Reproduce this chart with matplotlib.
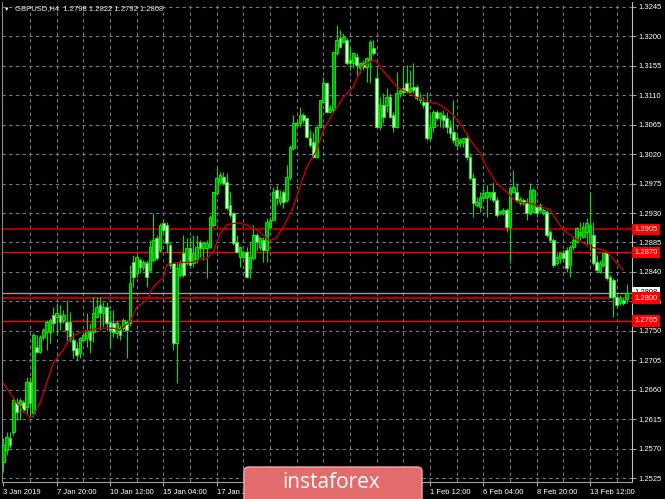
import numpy as np
import matplotlib.pyplot as plt
from matplotlib.patches import FancyBboxPatch

plt.rcParams['font.family'] = ['Liberation Sans', 'DejaVu Sans']

# GBPUSD H4, valores (una vela por barra)
opens = [1.2550, 1.2568, 1.2586, 1.2595, 1.2641, 1.2637, 1.2641, 1.2634, 1.2672, 1.2624,
         1.2725, 1.2718, 1.2741, 1.2748, 1.2748, 1.2774, 1.2771, 1.2774, 1.2767, 1.2764,
         1.2764, 1.2736, 1.2724, 1.2716, 1.2736, 1.2739, 1.2748, 1.2748, 1.2771, 1.2790,
         1.2777, 1.2786, 1.2764, 1.2762, 1.2747, 1.2754, 1.2754, 1.2764, 1.2762, 1.2855,
         1.2838, 1.2858, 1.2848, 1.2854, 1.2843, 1.2858, 1.2892, 1.2874, 1.2915, 1.2912,
         1.2881, 1.2854, 1.2731, 1.2835, 1.2869, 1.2854, 1.2877, 1.2854, 1.2858, 1.2886,
         1.2877, 1.2877, 1.2878, 1.2912, 1.2961, 1.2978, 1.2985, 1.2978, 1.2942, 1.2930,
         1.2886, 1.2863, 1.2863, 1.2871, 1.2846, 1.2861, 1.2897, 1.2878, 1.2889, 1.2874,
         1.2909, 1.2919, 1.2965, 1.2947, 1.2962, 1.2950, 1.2985, 1.3030, 1.3065, 1.3068,
         1.3080, 1.3075, 1.3045, 1.3039, 1.3016, 1.3062, 1.3100, 1.3129, 1.3085, 1.3088,
         1.3175, 1.3198, 1.3192, 1.3195, 1.3164, 1.3159, 1.3169, 1.3152, 1.3159, 1.3153,
         1.3164, 1.3182, 1.3137, 1.3062, 1.3095, 1.3095, 1.3107, 1.3080, 1.3062, 1.3114,
         1.3121, 1.3129, 1.3115, 1.3123, 1.3123, 1.3103, 1.3100, 1.3100, 1.3045, 1.3062,
         1.3085, 1.3075, 1.3080, 1.3075, 1.3062, 1.3054, 1.3034, 1.3037, 1.3039, 1.3045,
         1.3016, 1.2984, 1.2942, 1.2939, 1.2953, 1.2955, 1.2955, 1.2962, 1.2950, 1.2930,
         1.2930, 1.2935, 1.2909, 1.2962, 1.2962, 1.2945, 1.2950, 1.2947, 1.2930, 1.2932,
         1.2939, 1.2942, 1.2930, 1.2932, 1.2901, 1.2889, 1.2854, 1.2861, 1.2869, 1.2874,
         1.2851, 1.2878, 1.2886, 1.2897, 1.2893, 1.2901, 1.2884, 1.2897, 1.2855, 1.2840,
         1.2851, 1.2869, 1.2832, 1.2828, 1.2802, 1.2793, 1.2797, 1.2798]
highs = [1.2586, 1.2595, 1.2595, 1.2649, 1.2647, 1.2647, 1.2644, 1.2679, 1.2679, 1.2747,
         1.2744, 1.2744, 1.2754, 1.2767, 1.2770, 1.2786, 1.2793, 1.2790, 1.2782, 1.2797,
         1.2779, 1.2748, 1.2733, 1.2741, 1.2747, 1.2777, 1.2762, 1.2802, 1.2802, 1.2802,
         1.2794, 1.2794, 1.2782, 1.2782, 1.2767, 1.2759, 1.2770, 1.2767, 1.2851, 1.2866,
         1.2866, 1.2861, 1.2858, 1.2858, 1.2889, 1.2930, 1.2897, 1.2915, 1.2916, 1.2916,
         1.2884, 1.2855, 1.2855, 1.2858, 1.2897, 1.2892, 1.2893, 1.2897, 1.2897, 1.2889,
         1.2886, 1.2889, 1.2927, 1.2962, 1.3000, 1.2993, 1.2993, 1.2991, 1.2962, 1.2932,
         1.2897, 1.2878, 1.2874, 1.2878, 1.2886, 1.2912, 1.2900, 1.2893, 1.2893, 1.2923,
         1.2924, 1.2970, 1.2973, 1.2965, 1.2965, 1.3004, 1.3034, 1.3080, 1.3072, 1.3092,
         1.3083, 1.3077, 1.3057, 1.3054, 1.3062, 1.3103, 1.3138, 1.3130, 1.3095, 1.3176,
         1.3218, 1.3210, 1.3205, 1.3198, 1.3182, 1.3176, 1.3175, 1.3161, 1.3164, 1.3169,
         1.3195, 1.3195, 1.3150, 1.3107, 1.3114, 1.3121, 1.3114, 1.3085, 1.3146, 1.3121,
         1.3153, 1.3156, 1.3149, 1.3159, 1.3126, 1.3114, 1.3107, 1.3115, 1.3080, 1.3088,
         1.3088, 1.3085, 1.3088, 1.3085, 1.3072, 1.3103, 1.3052, 1.3045, 1.3045, 1.3052,
         1.3022, 1.2991, 1.2955, 1.2962, 1.2973, 1.2973, 1.2962, 1.2978, 1.2955, 1.2935,
         1.2938, 1.2938, 1.2968, 1.2996, 1.2976, 1.2955, 1.2953, 1.2953, 1.2976, 1.2968,
         1.2942, 1.2945, 1.2938, 1.2935, 1.2904, 1.2892, 1.2869, 1.2871, 1.2874, 1.2878,
         1.2881, 1.2893, 1.2909, 1.2916, 1.2916, 1.2923, 1.2962, 1.2916, 1.2866, 1.2858,
         1.2869, 1.2871, 1.2835, 1.2831, 1.2805, 1.2805, 1.2802, 1.2822]
lows = [1.2534, 1.2560, 1.2571, 1.2591, 1.2614, 1.2614, 1.2626, 1.2624, 1.2620, 1.2618,
        1.2716, 1.2716, 1.2736, 1.2721, 1.2731, 1.2748, 1.2744, 1.2751, 1.2762, 1.2731,
        1.2733, 1.2708, 1.2705, 1.2708, 1.2733, 1.2725, 1.2716, 1.2733, 1.2770, 1.2751,
        1.2756, 1.2751, 1.2724, 1.2741, 1.2739, 1.2736, 1.2751, 1.2708, 1.2757, 1.2817,
        1.2832, 1.2838, 1.2843, 1.2817, 1.2840, 1.2855, 1.2858, 1.2871, 1.2897, 1.2871,
        1.2846, 1.2721, 1.2670, 1.2832, 1.2832, 1.2851, 1.2848, 1.2848, 1.2854, 1.2863,
        1.2858, 1.2831, 1.2877, 1.2909, 1.2958, 1.2973, 1.2973, 1.2935, 1.2924, 1.2881,
        1.2869, 1.2848, 1.2861, 1.2831, 1.2831, 1.2858, 1.2874, 1.2874, 1.2855, 1.2855,
        1.2904, 1.2919, 1.2942, 1.2942, 1.2938, 1.2947, 1.2981, 1.3026, 1.3060, 1.3062,
        1.3068, 1.3045, 1.3031, 1.3014, 1.3014, 1.3060, 1.3098, 1.3083, 1.3083, 1.3085,
        1.3172, 1.3182, 1.3190, 1.3156, 1.3149, 1.3152, 1.3138, 1.3144, 1.3149, 1.3130,
        1.3129, 1.3172, 1.3060, 1.3057, 1.3068, 1.3085, 1.3075, 1.3054, 1.3060, 1.3107,
        1.3111, 1.3114, 1.3115, 1.3114, 1.3103, 1.3098, 1.3091, 1.3042, 1.3042, 1.3054,
        1.3072, 1.3062, 1.3060, 1.3052, 1.3045, 1.3037, 1.3026, 1.3031, 1.3031, 1.3011,
        1.2981, 1.2924, 1.2939, 1.2932, 1.2953, 1.2924, 1.2950, 1.2947, 1.2924, 1.2927,
        1.2927, 1.2901, 1.2854, 1.2961, 1.2947, 1.2942, 1.2942, 1.2919, 1.2927, 1.2930,
        1.2924, 1.2930, 1.2927, 1.2893, 1.2886, 1.2848, 1.2851, 1.2854, 1.2858, 1.2840,
        1.2832, 1.2874, 1.2884, 1.2889, 1.2892, 1.2881, 1.2874, 1.2851, 1.2840, 1.2838,
        1.2848, 1.2828, 1.2800, 1.2771, 1.2786, 1.2790, 1.2790, 1.2792]
closes = [1.2575, 1.2588, 1.2575, 1.2644, 1.2626, 1.2644, 1.2629, 1.2672, 1.2640, 1.2744,
          1.2718, 1.2741, 1.2751, 1.2764, 1.2767, 1.2762, 1.2777, 1.2764, 1.2774, 1.2751,
          1.2739, 1.2721, 1.2713, 1.2739, 1.2744, 1.2751, 1.2736, 1.2777, 1.2786, 1.2777,
          1.2786, 1.2762, 1.2751, 1.2748, 1.2762, 1.2744, 1.2767, 1.2751, 1.2823, 1.2832,
          1.2863, 1.2848, 1.2855, 1.2832, 1.2878, 1.2889, 1.2861, 1.2912, 1.2904, 1.2884,
          1.2851, 1.2731, 1.2846, 1.2854, 1.2835, 1.2877, 1.2851, 1.2869, 1.2878, 1.2877,
          1.2884, 1.2884, 1.2924, 1.2962, 1.2984, 1.2988, 1.2976, 1.2938, 1.2927, 1.2884,
          1.2871, 1.2878, 1.2871, 1.2832, 1.2863, 1.2897, 1.2886, 1.2892, 1.2874, 1.2916,
          1.2919, 1.2962, 1.2953, 1.2955, 1.2947, 1.2985, 1.3031, 1.3068, 1.3068, 1.3080,
          1.3072, 1.3046, 1.3034, 1.3016, 1.3062, 1.3103, 1.3129, 1.3085, 1.3091, 1.3176,
          1.3195, 1.3184, 1.3199, 1.3159, 1.3159, 1.3175, 1.3156, 1.3159, 1.3153, 1.3167,
          1.3192, 1.3175, 1.3062, 1.3095, 1.3077, 1.3107, 1.3077, 1.3062, 1.3114, 1.3118,
          1.3115, 1.3115, 1.3121, 1.3118, 1.3106, 1.3106, 1.3095, 1.3045, 1.3062, 1.3085,
          1.3075, 1.3083, 1.3072, 1.3062, 1.3052, 1.3042, 1.3045, 1.3042, 1.3045, 1.3016,
          1.2984, 1.2945, 1.2947, 1.2955, 1.2961, 1.2962, 1.2962, 1.2950, 1.2927, 1.2933,
          1.2935, 1.2909, 1.2968, 1.2970, 1.2950, 1.2952, 1.2945, 1.2930, 1.2965, 1.2965,
          1.2930, 1.2935, 1.2935, 1.2897, 1.2889, 1.2851, 1.2863, 1.2869, 1.2861, 1.2846,
          1.2878, 1.2889, 1.2907, 1.2901, 1.2909, 1.2915, 1.2912, 1.2854, 1.2843, 1.2854,
          1.2869, 1.2831, 1.2802, 1.2802, 1.2790, 1.2800, 1.2793, 1.2808]

ma_bars = [0, 2, 4, 8, 9, 11, 13, 15, 18, 20, 23, 26, 29, 33, 35, 36, 38, 40, 43, 45,
           48, 49, 52, 57, 60, 61, 63, 65, 67, 70, 73, 76, 79, 80, 82, 84, 87, 89, 91, 94,
           96, 99, 102, 105, 106, 108, 111, 112, 113, 117, 118, 121, 124, 126, 129, 130, 132, 135, 138, 140,
           143, 145, 148, 151, 154, 158, 160, 164, 166, 168, 171, 174, 177, 179, 181, 184, 186]
ma_vals = [1.2670, 1.2655, 1.2640, 1.2617, 1.2620, 1.2640, 1.2670, 1.2701, 1.2721, 1.2739,
           1.2748, 1.2751, 1.2754, 1.2754, 1.2751, 1.2756, 1.2764, 1.2786, 1.2797, 1.2817,
           1.2832, 1.2851, 1.2854, 1.2855, 1.2861, 1.2860, 1.2871, 1.2897, 1.2912, 1.2915,
           1.2912, 1.2904, 1.2892, 1.2887, 1.2893, 1.2909, 1.2939, 1.2970, 1.3000, 1.3026,
           1.3057, 1.3083, 1.3107, 1.3123, 1.3135, 1.3156, 1.3164, 1.3161, 1.3153, 1.3129,
           1.3123, 1.3115, 1.3107, 1.3103, 1.3098, 1.3098, 1.3092, 1.3080, 1.3060, 1.3042,
           1.3022, 1.3000, 1.2976, 1.2962, 1.2947, 1.2945, 1.2942, 1.2935, 1.2919, 1.2904,
           1.2893, 1.2884, 1.2877, 1.2875, 1.2871, 1.2854, 1.2843]

# Lineas horizontales de niveles
levels = [1.2905, 1.2870, 1.2800, 1.2765]
level_colors = ['#a00000', '#ff0000', '#b00000', '#ff0000']
level_widths = [1.6, 1.0, 1.6, 1.0]

price_ticks = [1.2525, 1.2570, 1.2615, 1.2660, 1.2705, 1.2750, 1.2795, 1.2840, 1.2885,
               1.2930, 1.2975, 1.3020, 1.3065, 1.3110, 1.3155, 1.3200, 1.3245]
# las etiquetas tapadas por la marca de agua no se ven en la referencia
time_labels = ['3 Jan 2019', '7 Jan 20:00', '10 Jan 12:00', '15 Jan 04:00', '17 Jan 20:00',
               '', '', '', '1 Feb 12:00', '6 Feb 04:00',
               '8 Feb 20:00', '13 Feb 12:00']

o = np.array(opens); h = np.array(highs); l = np.array(lows); c = np.array(closes)
bars = np.arange(len(o))
sube = c >= o

fig = plt.figure(figsize=(6.65, 4.99), dpi=100, facecolor='black')
ax = fig.add_axes([2/665, 17/499, 630/665, 480/499])
ax.set_facecolor('black')
ax.set_xlim(-0.4, 188.6)
ax.set_ylim(1.25189, 1.32526)

grid_col = '#6f7c8c'
for p in price_ticks:
    ax.axhline(p, color=grid_col, lw=0.8, ls=(0, (3, 3)), zorder=0)
for b in range(8, 189, 8):
    ax.axvline(b, color=grid_col, lw=0.8, ls=(0, (3, 3)), zorder=0)

# niveles y precio actual
for p, col, w in zip(levels, level_colors, level_widths):
    ax.axhline(p, color=col, lw=w, zorder=1)
ax.axhline(c[-1], color='#9a9a9a', lw=1.0, zorder=1)

# velas
ax.vlines(bars, l, h, color='#00e000', lw=0.8, zorder=2)
cuerpo = np.maximum(np.abs(c - o), 0.00004)
ax.bar(bars[sube], cuerpo[sube], bottom=np.minimum(o, c)[sube], width=0.72,
       color='#00a000', edgecolor='#00ff00', lw=0.6, zorder=3)
ax.bar(bars[~sube], cuerpo[~sube], bottom=np.minimum(o, c)[~sube], width=0.72,
       color='#d4ffd4', edgecolor='#00ff00', lw=0.6, zorder=3)

ax.plot(ma_bars, ma_vals, color='#c80000', lw=1.0, zorder=4)

# ejes
ax.spines['top'].set_visible(False)
ax.spines['left'].set_color('#8a8a8a')
ax.spines['right'].set_color('#c0c0c0')
ax.spines['bottom'].set_color('#a0a0a0')
ax.yaxis.tick_right()
ax.set_yticks(price_ticks)
ax.set_yticklabels(['%.4f' % p for p in price_ticks])
ax.set_xticks(range(0, 16 * len(time_labels), 16))
ax.set_xticklabels(time_labels, ha='left')
ax.tick_params(axis='both', colors='#a0a0a0', labelcolor='white', labelsize=5.5,
               length=3, width=0.8, pad=2)

# etiquetas de precio a la derecha
ytr = ax.get_yaxis_transform()
ax.text(1.004, c[-1], '%.4f' % c[-1], transform=ytr, color='black', fontsize=5.5,
        va='center', ha='left', clip_on=False, zorder=6,
        bbox=dict(boxstyle='square,pad=0.3', fc='white', ec='none'))
for p in levels:
    ax.text(1.004, p, '%.4f' % p, transform=ytr, color='white', fontsize=5.5,
            va='center', ha='left', clip_on=False, zorder=7,
            bbox=dict(boxstyle='square,pad=0.3', fc='#ff0000', ec='none'))

# cabecera
fig.text(7/665, 1 - 9/499, '\u25bc', fontsize=4, color='white', va='center', ha='center')
fig.text(15/665, 1 - 9/499,
         'GBPUSD,H4  %.4f %.4f %.4f %.4f' % (o[-1], h[-1], l[-1], c[-1]),
         fontsize=5.5, color='#e8e8e8', va='center', ha='left')

# marca de agua
caja = FancyBboxPatch((244/665, -0.02), 178/665, 32/499 + 0.02,
                      boxstyle='round,pad=0,rounding_size=0.008',
                      transform=fig.transFigure, fc='#e26c6c', ec='#f3a8a8', lw=1.0, zorder=10)
fig.add_artist(caja)
fig.text(331/665, 1 - 483/499, 'instaforex', fontsize=15, color='white',
         family=['Open Sans', 'DejaVu Sans'], va='center', ha='center', zorder=11)

fig.savefig('out.png', dpi=100, facecolor='black')
